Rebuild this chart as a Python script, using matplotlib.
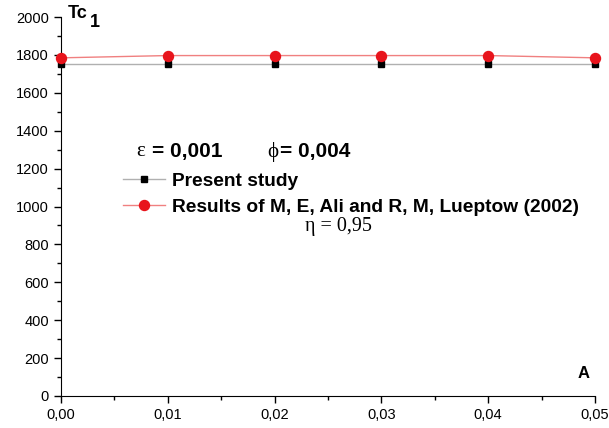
import matplotlib
matplotlib.use("Agg")
import matplotlib.pyplot as plt
from matplotlib.ticker import MultipleLocator, FuncFormatter

A_VALUES = [0.00, 0.01, 0.02, 0.03, 0.04, 0.05]
TC_PRESENT = [1750, 1750, 1750, 1750, 1750, 1750]
TC_ALI_LUEPTOW = [1785, 1797, 1797, 1797, 1797, 1785]

plt.rcParams["font.family"] = "Liberation Sans"

fig = plt.figure(figsize=(6.09, 4.28), dpi=100)
ax = fig.add_axes([0.100, 0.075, 0.877, 0.885])

ax.plot(A_VALUES, TC_PRESENT, color="#b0b0b0", lw=1.0, marker="s", ms=5,
        mfc="black", mec="black", clip_on=False, zorder=3)
ax.plot(A_VALUES, TC_ALI_LUEPTOW, color="#f08080", lw=1.0, marker="o", ms=7.2,
        mfc="#e8141c", mec="#e8141c", clip_on=False, zorder=4)

ax.set_xlim(0, 0.05)
ax.set_ylim(0, 2000)
ax.xaxis.set_major_locator(MultipleLocator(0.01))
ax.xaxis.set_minor_locator(MultipleLocator(0.005))
ax.yaxis.set_major_locator(MultipleLocator(200))
ax.yaxis.set_minor_locator(MultipleLocator(100))
ax.xaxis.set_major_formatter(FuncFormatter(lambda v, p: f"{v:.2f}".replace(".", ",")))
ax.yaxis.set_major_formatter(FuncFormatter(lambda v, p: f"{v:.0f}"))

for s in ("top", "right"):
    ax.spines[s].set_visible(False)
ax.tick_params(which="both", direction="out", labelsize=10.5, width=1)
ax.tick_params(which="major", length=5)
ax.tick_params(which="minor", length=3)

# axis titles in the corners
fig.text(68 / 609, 1 - 18 / 428, "Tc", fontsize=13, fontweight="bold", ha="left", va="baseline")
fig.text(90 / 609, 1 - 27 / 428, "1", fontsize=13, fontweight="bold", ha="left", va="baseline")
fig.text(590 / 609, 1 - 378 / 428, "A", fontsize=12, fontweight="bold", ha="right", va="baseline")

# parameter annotations
row_y = 1 - 152 / 428
fig.text(136 / 609, row_y, "\u03b5", family="Liberation Serif", fontsize=15, ha="left", va="center")
fig.text(152 / 609, row_y, "= 0,001", fontsize=15, fontweight="bold", ha="left", va="center")
fig.text(267 / 609, row_y, "\u03d5", family="Liberation Serif", fontsize=15, ha="left", va="center")
fig.text(280 / 609, row_y, "= 0,004", fontsize=15, fontweight="bold", ha="left", va="center")

# legend
ax.legend(["Present study", "Results of M, E, Ali and R, M, Lueptow (2002)"],
          loc="upper left", bbox_to_anchor=(0.116, 0.590), frameon=False,
          prop={"weight": "bold", "size": 13.8}, handlelength=2.2,
          handletextpad=0.36, labelspacing=0.45, borderpad=0, borderaxespad=0)

fig.text(338 / 609, 1 - 227 / 428, "\u03b7 = 0,95", family="Liberation Serif", fontsize=14.5,
         ha="center", va="center")

fig.savefig("out.png", dpi=100)
